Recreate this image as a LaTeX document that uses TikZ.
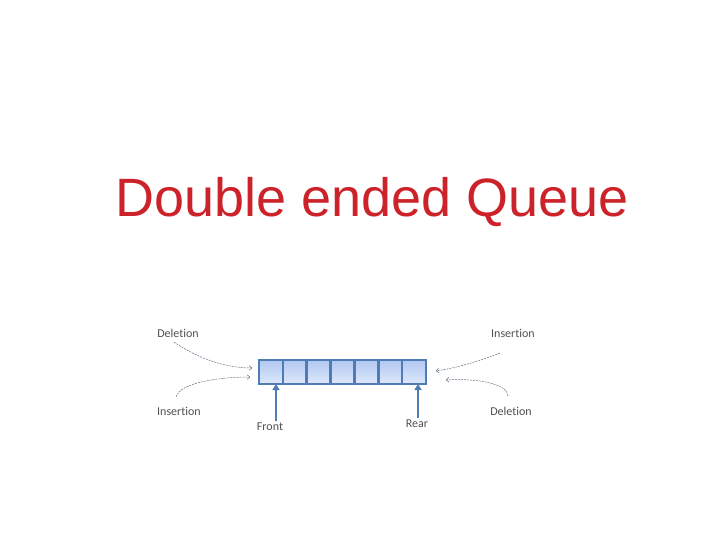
\documentclass[tikz,border=0pt]{standalone}
\usepackage{fontspec}
\setmainfont{Liberation Sans}
\newfontfamily\labelfont[Ligatures=NoCommon]{Carlito}
\usetikzlibrary{arrows.meta}
\definecolor{titlered}{RGB}{204,34,41}
\definecolor{qblue}{RGB}{79,124,178}
\definecolor{qfilltop}{RGB}{178,200,240}
\definecolor{qfillbot}{RGB}{222,232,252}
\definecolor{lblgray}{RGB}{80,80,80}
\definecolor{curvegray}{RGB}{95,110,130}
\tikzset{
  cell/.style={minimum width=23.86pt, minimum height=24pt, inner sep=0pt, outer sep=0pt,
    top color=qfilltop, bottom color=qfillbot, draw=none},
  lbl/.style={font=\labelfont\fontsize{12}{14}\selectfont, text=lblgray, inner sep=1pt},
  bigarrow/.style={draw=qblue, line width=2.2pt, -{Triangle[width=7pt,length=6pt]}},
  dcurve/.style={draw=curvegray, line width=0.5pt, dashed, dash pattern=on 2pt off 1pt, -{To[length=3pt,width=5pt]}},
}
\begin{document}
\begin{tikzpicture}[x=1pt,y=-1pt]
\useasboundingbox (0,0) rectangle (720,540);
\node[font=\fontsize{54}{60}\selectfont, text=titlered, anchor=base] (title) at (372,217) {Double ended Queue};
% cells
\foreach \i in {1,...,7} {
  \node[cell] (c\i) at ({259+23.86*(\i-0.5)},372) {};
}
\draw[qblue, line width=1.2pt] (c1.north west) rectangle (c7.south east);
\foreach \i in {1,...,6} {
  \draw[qblue, line width=2.6pt] (c\i.north east) -- (c\i.south east);
}
% labels
\node[lbl] (dl) at (178,333) {Deletion};
\node[lbl] (il) at (179,411) {Insertion};
\node[lbl] (ir) at (513,333) {Insertion};
\node[lbl] (dr) at (511,411) {Deletion};
\node[lbl] (front) at (270,427) {Front};
\node[lbl] (rear) at (417,424) {Rear};
% front/rear arrows
\coordinate (fa) at (276,421);
\coordinate (ra) at (418,418);
\draw[bigarrow] (fa) -- (fa |- c1.south);
\draw[bigarrow] (ra) -- (ra |- c7.south);
% dashed curves
\coordinate (dls) at (174,342);
\coordinate (dle) at (252,368);
\draw[dcurve] (dls) .. controls (200,360) and (228,368) .. (dle);
\coordinate (ils) at (176,397);
\coordinate (ile) at (250,377);
\draw[dcurve] (ils) .. controls (180,382) and (222,377) .. (ile);
\coordinate (irs) at (500,353);
\coordinate (ire) at (436,371);
\draw[dcurve] (irs) .. controls (480,361) and (456,368) .. (ire);
\coordinate (drs) at (508,396);
\coordinate (dre) at (446,380);
\draw[dcurve] (drs) .. controls (508,384) and (478,378) .. (dre);
\end{tikzpicture}
\end{document}
